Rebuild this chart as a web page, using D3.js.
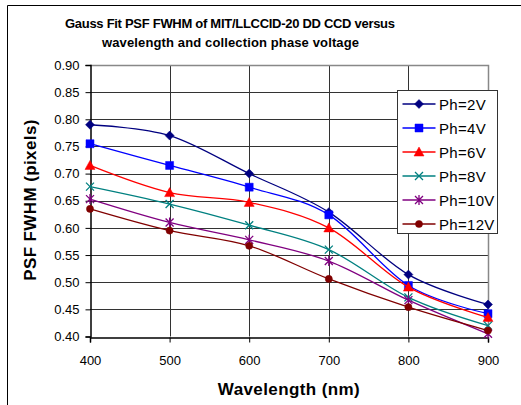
<!DOCTYPE html>
<html>
<head>
<meta charset="utf-8">
<script src="https://cdn.jsdelivr.net/npm/d3@7/dist/d3.min.js"></script>
<style>
  body { margin: 0; background: #fff; }
  svg { display: block; font-family: "Liberation Sans", Arial, sans-serif; }
</style>
</head>
<body>
<svg id="chart" width="521" height="405"></svg>
<script>
// wavelength (nm) on the x axis
var wavelengths = [400, 500, 600, 700, 800, 900];

// FWHM (pixels) per collection phase voltage
var ph2V  = [0.790, 0.770, 0.700, 0.629, 0.514, 0.459];
var ph4V  = [0.755, 0.715, 0.675, 0.624, 0.494, 0.442];
var ph6V  = [0.715, 0.665, 0.647, 0.600, 0.491, 0.435];
var ph8V  = [0.676, 0.644, 0.605, 0.560, 0.472, 0.420];
var ph10V = [0.653, 0.610, 0.578, 0.539, 0.467, 0.405];
var ph12V = [0.635, 0.595, 0.567, 0.506, 0.454, 0.411];

var seriesNames = ['Ph=2V', 'Ph=4V', 'Ph=6V', 'Ph=8V', 'Ph=10V', 'Ph=12V'];
var yTicks = [0.40, 0.45, 0.50, 0.55, 0.60, 0.65, 0.70, 0.75, 0.80, 0.85, 0.90];

var series = [
    {name: seriesNames[0], values: ph2V,  color: '#000080', marker: 'diamond'},
    {name: seriesNames[1], values: ph4V,  color: '#0000ff', marker: 'square'},
    {name: seriesNames[2], values: ph6V,  color: '#ff0000', marker: 'triangle'},
    {name: seriesNames[3], values: ph8V,  color: '#008080', marker: 'x'},
    {name: seriesNames[4], values: ph10V, color: '#800080', marker: 'star'},
    {name: seriesNames[5], values: ph12V, color: '#800000', marker: 'circle'}
];

var svg = d3.select('#chart');

// outer frame (only top and left edges show inside the picture)
svg.append('path')
    .attr('d', 'M7.5,410V5.5H530')
    .attr('fill', 'none')
    .attr('stroke', '#000')
    .attr('stroke-width', 1);

var x = d3.scaleLinear().domain([400, 900]).range([90, 488]),
    y = d3.scaleLinear().domain([0.4, 0.9]).range([336.5, 65]);

// gridlines
var grid = svg.append('g').attr('class', 'grid');
grid.selectAll('line.h')
    .data(yTicks.slice(1, -1))
    .enter().append('line')
    .attr('class', 'h')
    .attr('x1', x(400)).attr('x2', x(900))
    .attr('y1', function(d) { return Math.round(y(d)) + 0.5; })
    .attr('y2', function(d) { return Math.round(y(d)) + 0.5; })
    .attr('stroke', '#333').attr('stroke-width', 1);
grid.selectAll('line.v')
    .data(wavelengths.slice(1, -1))
    .enter().append('line')
    .attr('class', 'v')
    .attr('y1', y(0.4)).attr('y2', y(0.9))
    .attr('x1', function(d) { return Math.round(x(d)) + 0.5; })
    .attr('x2', function(d) { return Math.round(x(d)) + 0.5; })
    .attr('stroke', '#333').attr('stroke-width', 1);

// plot area border: top and right are grey
svg.append('path')
    .attr('d', 'M' + x(400) + ',' + (Math.round(y(0.9)) + 0.5) +
        'H' + (Math.round(x(900)) + 0.5) + 'V' + y(0.4))
    .attr('fill', 'none')
    .attr('stroke', '#888')
    .attr('stroke-width', 1.5);

// axes
var yAxis = d3.axisLeft(y)
    .tickValues(yTicks)
    .tickFormat(d3.format('.2f'))
    .tickSize(5)
    .tickPadding(6);
var gy = svg.append('g')
    .attr('transform', 'translate(' + (Math.round(x(400)) + 0.5) + ',0)')
    .call(yAxis);

var xAxis = d3.axisBottom(x)
    .tickValues(wavelengths)
    .tickFormat(d3.format('d'))
    .tickSize(5)
    .tickPadding(13);
var gx = svg.append('g')
    .attr('transform', 'translate(0,' + (Math.round(y(0.4)) + 0.5) + ')')
    .call(xAxis);

[gx, gy].forEach(function(g) {
    g.select('.domain').attr('stroke', '#000').attr('stroke-width', 1.5);
    g.selectAll('.tick line').attr('stroke', '#000');
    g.selectAll('.tick text')
        .attr('fill', '#000')
        .style('font-size', '13px')
        .style('font-family', '"Liberation Sans", Arial, sans-serif');
});

// marker paths, centred on 0,0
function markerPath(type) {
    switch(type) {
        case 'diamond': return 'M0,-4.5L4.5,0L0,4.5L-4.5,0Z';
        case 'square': return 'M-4,-4H4V4H-4Z';
        case 'triangle': return 'M0,-5L5,4H-5Z';
        case 'circle': return d3.symbol().type(d3.symbolCircle).size(40)();
        case 'x': return 'M-4,-4L4,4M-4,4L4,-4';
        case 'star': return 'M-4,-4L4,4M-4,4L4,-4M0,-5V5';
    }
    return '';
}
function isStroked(type) {
    return type === 'x' || type === 'star';
}

var line = d3.line()
    .x(function(d) { return x(d.x); })
    .y(function(d) { return y(d.y); })
    .curve(d3.curveCardinal.tension(0));

var traces = svg.selectAll('g.trace')
    .data(series)
    .enter().append('g')
    .attr('class', 'trace');

traces.each(function(s) {
    var pts = s.values.map(function(v, i) { return {x: wavelengths[i], y: v}; });
    var g = d3.select(this);
    g.append('path')
        .attr('d', line(pts))
        .attr('fill', 'none')
        .attr('stroke', s.color)
        .attr('stroke-width', 1.3);
    g.selectAll('path.pt')
        .data(pts)
        .enter().append('path')
        .attr('class', 'pt')
        .attr('transform', function(d) { return 'translate(' + x(d.x) + ',' + y(d.y) + ')'; })
        .attr('d', markerPath(s.marker))
        .attr('fill', isStroked(s.marker) ? 'none' : s.color)
        .attr('stroke', s.color)
        .attr('stroke-width', isStroked(s.marker) ? 1.3 : 0.5);
});

// legend
var legend = svg.append('g').attr('transform', 'translate(397.5,90.5)');
legend.append('rect')
    .attr('width', 100).attr('height', 143)
    .attr('fill', '#fff')
    .attr('stroke', '#333').attr('stroke-width', 1);

var items = legend.selectAll('g.item')
    .data(series)
    .enter().append('g')
    .attr('class', 'item')
    .attr('transform', function(d, i) { return 'translate(0,' + (13.5 + i * 24) + ')'; });
items.append('line')
    .attr('x1', 5).attr('x2', 38)
    .attr('stroke', function(d) { return d.color; })
    .attr('stroke-width', 1.5);
items.append('path')
    .attr('transform', 'translate(21.5,0)')
    .attr('d', function(d) { return markerPath(d.marker); })
    .attr('fill', function(d) { return isStroked(d.marker) ? 'none' : d.color; })
    .attr('stroke', function(d) { return d.color; })
    .attr('stroke-width', function(d) { return isStroked(d.marker) ? 1.3 : 0.5; });
items.append('text')
    .attr('x', 41.5)
    .attr('y', 5.5)
    .style('font-size', '15px')
    .style('letter-spacing', '0.3px')
    .text(function(d) { return d.name; });

// titles
svg.append('text')
    .attr('x', 65).attr('y', 28)
    .attr('textLength', 330)
    .attr('lengthAdjust', 'spacing')
    .style('font-size', '13px')
    .style('font-weight', 'bold')
    .text('Gauss Fit PSF FWHM of MIT/LLCCID-20 DD CCD versus');
svg.append('text')
    .attr('x', 102).attr('y', 47)
    .attr('textLength', 257)
    .attr('lengthAdjust', 'spacing')
    .style('font-size', '13px')
    .style('font-weight', 'bold')
    .text('wavelength and collection phase voltage');

svg.append('text')
    .attr('x', 289).attr('y', 395)
    .attr('text-anchor', 'middle')
    .style('font-size', '17px')
    .style('font-weight', 'bold')
    .style('letter-spacing', '0.4px')
    .text('Wavelength (nm)');

svg.append('text')
    .attr('transform', 'translate(36,200) rotate(-90)')
    .attr('text-anchor', 'middle')
    .style('font-size', '17px')
    .style('font-weight', 'bold')
    .style('letter-spacing', '0.4px')
    .text('PSF FWHM (pixels)');
</script>
</body>
</html>
